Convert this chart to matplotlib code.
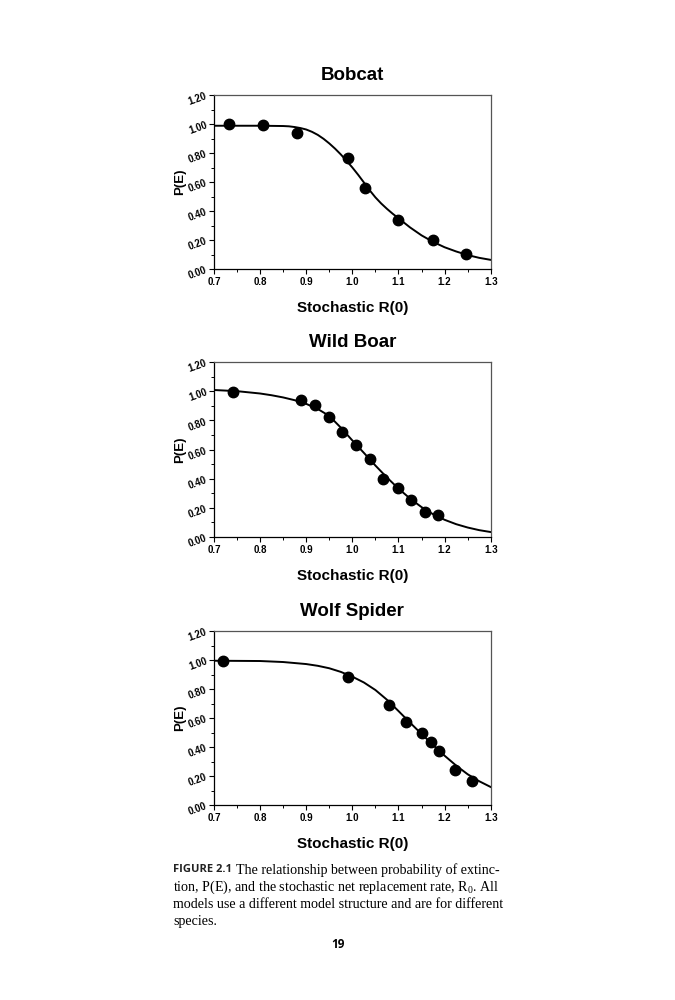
import matplotlib
matplotlib.use("Agg")
import matplotlib.pyplot as plt
from matplotlib.ticker import MultipleLocator, FormatStrFormatter

plt.rcParams['font.family'] = ['Liberation Sans', 'DejaVu Sans']
plt.rcParams['mathtext.fontset'] = 'custom'
plt.rcParams['mathtext.rm'] = 'Liberation Serif'

# ---- data ----
titles = ["Bobcat", "Wild Boar", "Wolf Spider"]

bobcat_x = [0.733, 0.806, 0.879, 0.991, 1.028, 1.099, 1.174, 1.247]
bobcat_y = [0.998, 0.991, 0.936, 0.766, 0.560, 0.340, 0.200, 0.103]
bobcat_cx = [0.70, 0.80, 0.85, 0.8625, 0.875, 0.8875, 0.90, 0.9125, 0.925, 0.9375,
             0.95, 0.9625, 0.975, 0.9875, 1.00, 1.0125, 1.025, 1.0375, 1.05,
             1.0625, 1.075, 1.0875, 1.10, 1.125, 1.15, 1.175, 1.20, 1.225, 1.25,
             1.275, 1.30]
bobcat_cy = [0.988, 0.988, 0.986, 0.984, 0.979, 0.972, 0.962, 0.946, 0.925, 0.898,
             0.866, 0.830, 0.790, 0.746, 0.700, 0.650, 0.597, 0.543, 0.494,
             0.452, 0.415, 0.381, 0.350, 0.287, 0.232, 0.187, 0.150, 0.121, 0.096,
             0.077, 0.063]

boar_x = [0.741, 0.889, 0.919, 0.949, 0.978, 1.008, 1.038, 1.067, 1.098, 1.127,
          1.157, 1.186]
boar_y = [0.996, 0.937, 0.905, 0.823, 0.720, 0.633, 0.533, 0.400, 0.334, 0.254,
          0.174, 0.149]
boar_cx = [0.70, 0.75, 0.80, 0.825, 0.85, 0.875, 0.90, 0.925, 0.95, 0.975, 1.00,
           1.025, 1.05, 1.075, 1.10, 1.125, 1.15, 1.175, 1.20, 1.225, 1.25, 1.275,
           1.30]
boar_cy = [1.008, 1.000, 0.984, 0.972, 0.957, 0.938, 0.913, 0.878, 0.830, 0.750,
           0.662, 0.577, 0.490, 0.408, 0.332, 0.264, 0.205, 0.156, 0.118, 0.088,
           0.065, 0.047, 0.034]

spider_x = [0.720, 0.990, 1.080, 1.116, 1.152, 1.170, 1.187, 1.223, 1.259]
spider_y = [0.996, 0.883, 0.691, 0.569, 0.500, 0.436, 0.374, 0.241, 0.168]
spider_cx = [0.70, 0.80, 0.85, 0.90, 0.925, 0.95, 0.975, 1.00, 1.025, 1.05, 1.075,
             1.10, 1.125, 1.15, 1.175, 1.20, 1.225, 1.25, 1.275, 1.30]
spider_cy = [0.995, 0.993, 0.986, 0.972, 0.960, 0.943, 0.918, 0.885, 0.845, 0.793,
             0.726, 0.648, 0.568, 0.490, 0.414, 0.340, 0.272, 0.212, 0.164, 0.124]

points_x = [bobcat_x, boar_x, spider_x]
points_y = [bobcat_y, boar_y, spider_y]
curves_x = [bobcat_cx, boar_cx, spider_cx]
curves_y = [bobcat_cy, boar_cy, spider_cy]

fig = plt.figure(figsize=(6.75, 10), dpi=100)

# axes positions in figure fraction [left, bottom, width, height]
boxes = [[0.317, 0.731, 0.410, 0.174],
         [0.317, 0.463, 0.410, 0.175],
         [0.317, 0.195, 0.410, 0.174]]

for i in range(3):
    ax = fig.add_axes(boxes[i])
    ax.plot(curves_x[i], curves_y[i], color='black', lw=1.4, zorder=2,
            solid_joinstyle='round')
    ax.plot(points_x[i], points_y[i], 'o', color='black', ms=7.5, zorder=3)
    ax.set_xlim(0.7, 1.3)
    ax.set_ylim(0, 1.2)
    ax.xaxis.set_major_locator(MultipleLocator(0.1))
    ax.xaxis.set_minor_locator(MultipleLocator(0.05))
    ax.yaxis.set_major_locator(MultipleLocator(0.2))
    ax.yaxis.set_minor_locator(MultipleLocator(0.1))
    ax.xaxis.set_major_formatter(FormatStrFormatter('%.1f'))
    ax.yaxis.set_major_formatter(FormatStrFormatter('%.2f'))
    ax.tick_params(which='major', direction='out', length=3.5, width=0.8,
                   labelsize=7, pad=2)
    ax.tick_params(which='minor', direction='out', length=2, width=0.7)
    for lab in ax.get_xticklabels() + ax.get_yticklabels():
        lab.set_fontweight('bold')
    for lab in ax.get_yticklabels():
        lab.set_rotation(20)
        lab.set_rotation_mode('anchor')
    for s in ['top', 'right']:
        ax.spines[s].set_color('#555555')
        ax.spines[s].set_linewidth(0.9)
    for s in ['left', 'bottom']:
        ax.spines[s].set_linewidth(0.9)
    ax.set_title(titles[i], fontsize=13.5, fontweight='bold', pad=11)
    ax.set_xlabel('Stochastic R(0)', fontsize=11, fontweight='bold', labelpad=10)
    ax.set_ylabel('P(E)', fontsize=9.5, fontweight='bold', labelpad=1)

# caption
cap_x = 173 / 675
fs = 10.1
fig.text(cap_x, 1 - 870 / 1000, 'FIGURE 2.1', fontsize=8, fontweight='bold',
         color='#222222', va='center', family=['Open Sans', 'DejaVu Sans'])
fig.text(236 / 675, 1 - 870 / 1000,
         'The relationship between probability of extinc-',
         fontsize=fs, va='center', family=['Liberation Serif'])
fig.text(cap_x, 1 - 887 / 1000,
         'tion, P(E), and the stochastic net replacement rate, R$_0$. All',
         fontsize=fs, va='center', family=['Liberation Serif'])
fig.text(cap_x, 1 - 904 / 1000,
         'models use a different model structure and are for different',
         fontsize=fs, va='center', family=['Liberation Serif'])
fig.text(cap_x, 1 - 921 / 1000, 'species.',
         fontsize=fs, va='center', family=['Liberation Serif'])
fig.text(338 / 675, 1 - 945 / 1000, '19', fontsize=8.5, fontweight='bold',
         ha='center', va='center', family=['Open Sans', 'DejaVu Sans'])

fig.savefig('out.png', dpi=100)
